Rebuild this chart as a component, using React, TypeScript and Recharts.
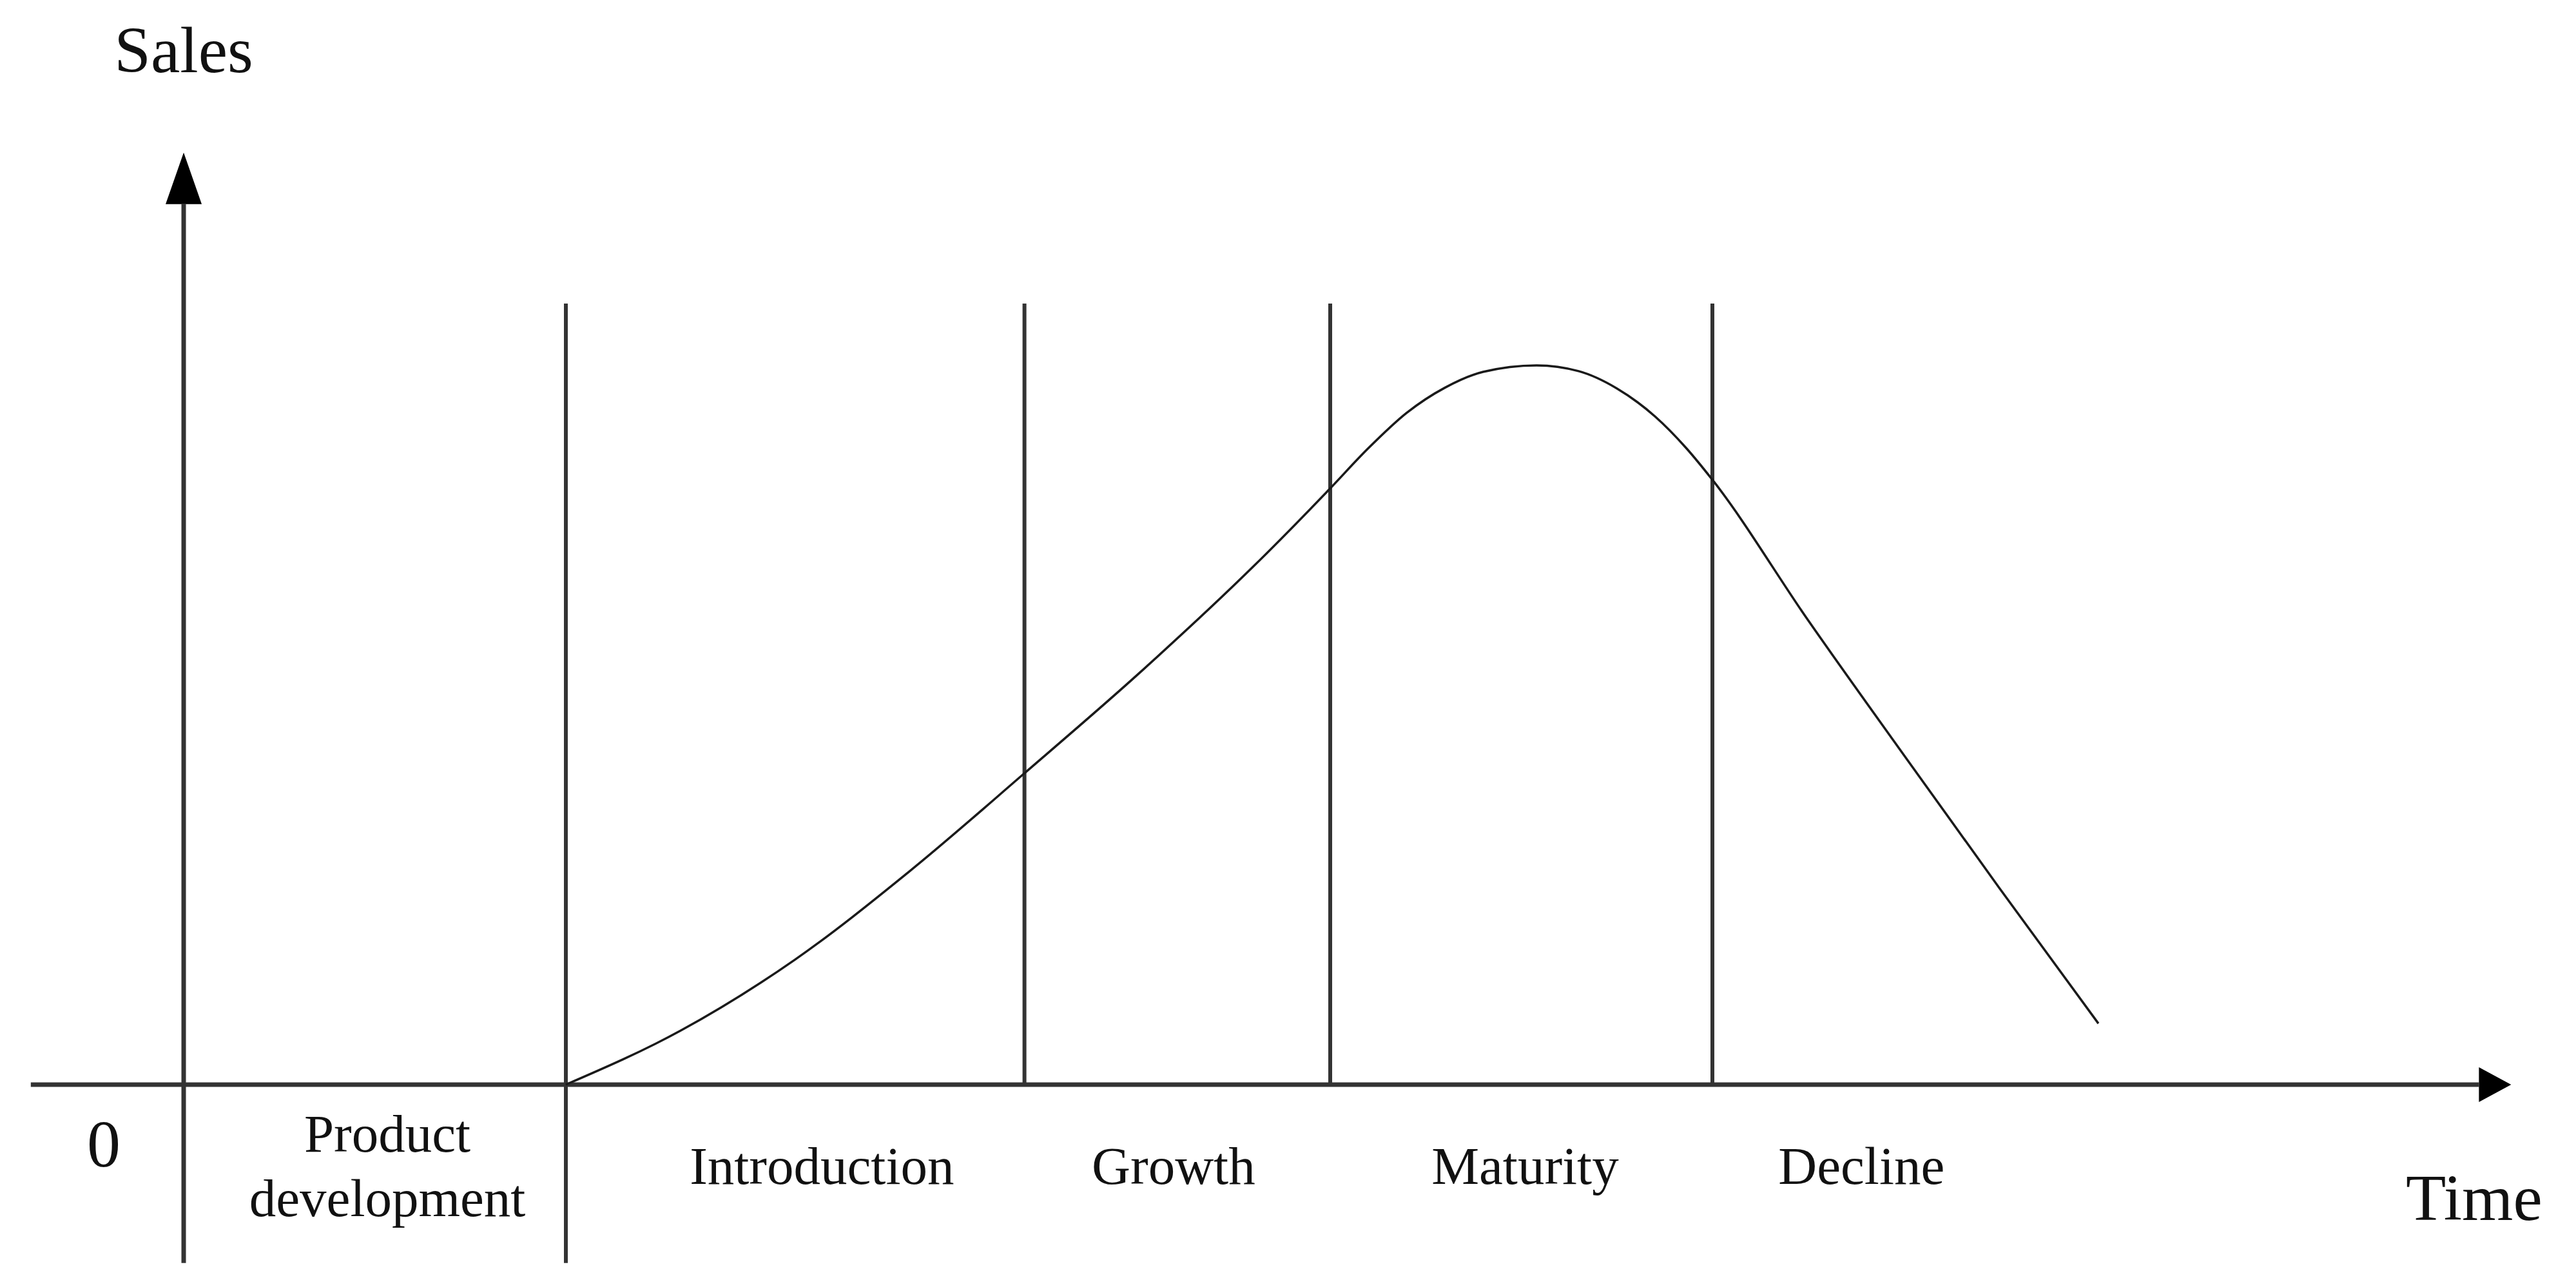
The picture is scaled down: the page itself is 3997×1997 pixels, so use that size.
import React from 'react';
import {
  LineChart,
  Line,
  XAxis,
  YAxis,
  ReferenceLine,
  ReferenceDot,
} from 'recharts';

// Product life cycle curve: time (x) vs sales (y), arbitrary units
const timePoints = [
  10, 13, 16, 19, 22, 25, 28, 30, 31, 32, 33, 34, 35.4, 36.5, 37.5, 38.5,
  39.3, 40, 42.5, 45, 47.5, 50.1,
];
const salesValues = [
  0, 7.5, 17.4, 29.7, 43.3, 57.2, 72.1, 82.9, 88.5, 93.4, 96.9, 99.1, 100,
  99.2, 96.8, 92.9, 88.6, 84.1, 64.6, 45.9, 27.4, 8.5,
];

// stage boundaries (time) and stage names
const stageBoundaries = [10, 22, 30, 40];
const stageNames = ['Introduction', 'Growth', 'Maturity', 'Decline'];
const stageLabelTimes = [16.7, 25.9, 35.1, 43.9];

const devLabelLines = ['Product', 'development'];
const devLabelTime = 5.33;

const boundaryTop = 108.6;
const axisBottom = -24.8;
const yAxisTop = 129.6;
const xAxisLeft = -4;
const xAxisRight = 60.9;

const FONT = '"Liberation Serif", "Times New Roman", serif';
const INK = '#333';

const chartData = timePoints.map((t, i) => ({ t, sales: salesValues[i] }));

// line with a filled arrow head at its second end point
const arrowShape = (len: number, half: number) => (props: any) => {
  const { x1, y1, x2, y2 } = props;
  const dx = x2 - x1;
  const dy = y2 - y1;
  const d = Math.sqrt(dx * dx + dy * dy) || 1;
  const ux = dx / d;
  const uy = dy / d;
  const bx = x2 - ux * len;
  const by = y2 - uy * len;
  const px = -uy * half;
  const py = ux * half;
  return (
    <g>
      <line x1={x1} y1={y1} x2={bx} y2={by} stroke={INK} strokeWidth={7} />
      <polygon
        points={`${x2},${y2} ${bx + px},${by + py} ${bx - px},${by - py}`}
        fill="#000"
      />
    </g>
  );
};

const textShape =
  (value: string, size: number) =>
  (props: any) =>
    (
      <text
        x={props.cx}
        y={props.cy}
        textAnchor="middle"
        fontFamily={FONT}
        fontSize={size}
        fill="#111"
      >
        {value}
      </text>
    );

export default function App() {
  return (
    <div style={{ position: 'absolute', left: 0, top: 0, background: '#fff' }}>
      <LineChart
        width={3997}
        height={1997}
        data={chartData}
        margin={{ top: 232.2, right: 94.7, left: 47.8, bottom: 35 }}
      >
        <XAxis
          type="number"
          dataKey="t"
          domain={[-4, 61]}
          allowDataOverflow
          hide
        />
        <YAxis type="number" domain={[-25, 130]} allowDataOverflow hide />

        {/* axes */}
        <ReferenceLine
          segment={[
            { x: xAxisLeft, y: 0 },
            { x: xAxisRight, y: 0 },
          ]}
          ifOverflow="visible"
          shape={arrowShape(50, 27)}
        />
        <ReferenceLine
          segment={[
            { x: 0, y: axisBottom },
            { x: 0, y: yAxisTop },
          ]}
          ifOverflow="visible"
          shape={arrowShape(80, 28)}
        />

        {/* stage boundaries */}
        {stageBoundaries.map((b, i) => (
          <ReferenceLine
            key={b}
            segment={[
              { x: b, y: i === 0 ? axisBottom : 0 },
              { x: b, y: boundaryTop },
            ]}
            ifOverflow="visible"
            stroke={INK}
            strokeWidth={6}
          />
        ))}

        <Line
          type="monotone"
          dataKey="sales"
          stroke="#1a1a1a"
          strokeWidth={3.5}
          dot={false}
          activeDot={false}
          isAnimationActive={false}
        />

        {/* labels */}
        {stageNames.map((name, i) => (
          <ReferenceDot
            key={name}
            x={stageLabelTimes[i]}
            y={-13.8}
            r={0}
            ifOverflow="visible"
            shape={textShape(name, 83)}
          />
        ))}
        <ReferenceDot
          x={devLabelTime}
          y={-9.3}
          r={0}
          ifOverflow="visible"
          shape={textShape(devLabelLines[0], 83)}
        />
        <ReferenceDot
          x={devLabelTime}
          y={-18.3}
          r={0}
          ifOverflow="visible"
          shape={textShape(devLabelLines[1], 83)}
        />
        <ReferenceDot
          x={-2.09}
          y={-11.4}
          r={0}
          ifOverflow="visible"
          shape={textShape('0', 104)}
        />
        <ReferenceDot
          x={59.93}
          y={-18.8}
          r={0}
          ifOverflow="visible"
          shape={textShape('Time', 102)}
        />
        <ReferenceDot
          x={0}
          y={140.8}
          r={0}
          ifOverflow="visible"
          shape={textShape('Sales', 102)}
        />
      </LineChart>
    </div>
  );
}
